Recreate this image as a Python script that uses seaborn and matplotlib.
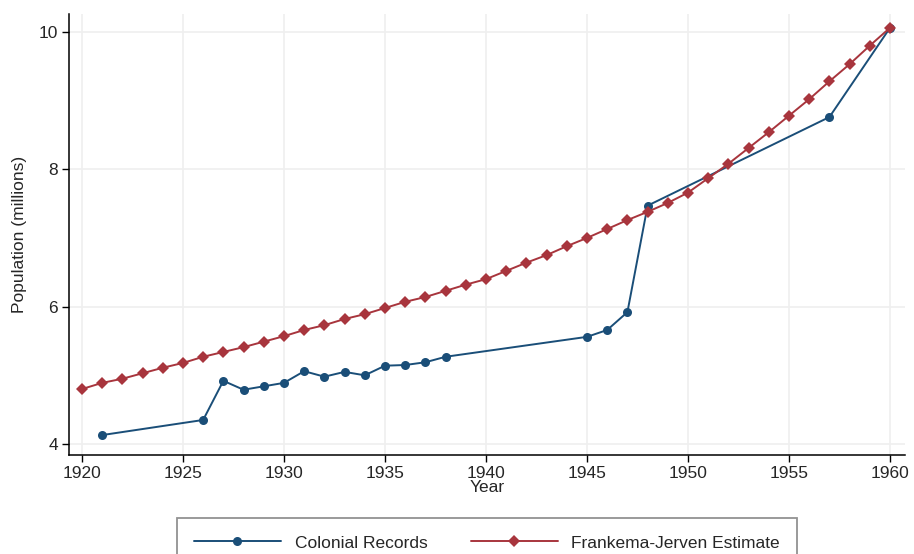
import seaborn as sns
import pandas as pd
import matplotlib.pyplot as plt

# colonial census / records (millions)
colonial_years = [1921, 1926, 1927, 1928, 1929, 1930, 1931, 1932, 1933, 1934,
                  1935, 1936, 1937, 1938, 1945, 1946, 1947, 1948, 1957, 1960]
colonial_pop = [4.13, 4.35, 4.92, 4.79, 4.84, 4.89, 5.06, 4.98, 5.05, 5.00,
                5.14, 5.15, 5.19, 5.27, 5.56, 5.66, 5.92, 7.47, 8.76, 10.06]

# Frankema-Jerven reconstruction (millions)
fj_years = list(range(1920, 1961))
fj_pop = [4.80, 4.89, 4.95, 5.03, 5.11, 5.18, 5.27, 5.34, 5.41, 5.49,
          5.57, 5.66, 5.73, 5.82, 5.89, 5.98, 6.07, 6.14, 6.23, 6.32,
          6.40, 6.52, 6.64, 6.75, 6.88, 7.00, 7.13, 7.26, 7.38, 7.51,
          7.66, 7.87, 8.08, 8.31, 8.54, 8.78, 9.02, 9.28, 9.53, 9.80,
          10.06]

df = pd.concat([
    pd.DataFrame({"year": colonial_years, "pop": colonial_pop, "series": "Colonial Records"}),
    pd.DataFrame({"year": fj_years, "pop": fj_pop, "series": "Frankema-Jerven Estimate"}),
])

sns.set_style("white")
plt.rcParams['font.family'] = ['Liberation Sans', 'DejaVu Sans']

fig = plt.figure(figsize=(9.14, 5.54), dpi=100)
ax = fig.add_axes([69 / 914, 1 - 455 / 554, (905 - 69) / 914, (455 - 14) / 554])

pal = {"Colonial Records": "#1a4e78", "Frankema-Jerven Estimate": "#a8353d"}
sns.lineplot(data=df, x="year", y="pop", hue="series", style="series",
             markers={"Colonial Records": "o", "Frankema-Jerven Estimate": "D"},
             dashes=False, palette=pal, markersize=6.5, markeredgewidth=0,
             linewidth=1.4, ax=ax, legend=True)

ax.set_xlim(1919.36, 1960.74)
ax.set_ylim(3.84, 10.26)
ax.set_xticks(range(1920, 1961, 5))
ax.set_yticks([4, 6, 8, 10])
ax.grid(True, color="#efefef", linewidth=1.2)
ax.set_axisbelow(True)
for s in ["top", "right"]:
    ax.spines[s].set_visible(False)
for s in ["left", "bottom"]:
    ax.spines[s].set_color("black")
    ax.spines[s].set_linewidth(1.1)
ax.tick_params(axis="both", which="major", length=5, width=1, color="black",
               labelsize=12.5, bottom=True, left=True, pad=3)
ax.set_xlabel("Year", fontsize=12.5, labelpad=-1)
ax.set_ylabel("Population (millions)", fontsize=12.5, labelpad=8)

# legend box runs off the bottom edge, as in the original export
handles, labels = ax.get_legend_handles_labels()
ax.get_legend().remove()
leg = fig.legend(handles, labels, loc="upper center", bbox_to_anchor=(487 / 914, 1 - 518 / 554),
                 ncol=2, frameon=True, fancybox=False, fontsize=12.5, handlelength=5,
                 columnspacing=2.5, borderpad=1.0, borderaxespad=0)
leg.get_frame().set_edgecolor("#777777")
leg.get_frame().set_linewidth(1.3)

fig.savefig("out.png", dpi=100)
